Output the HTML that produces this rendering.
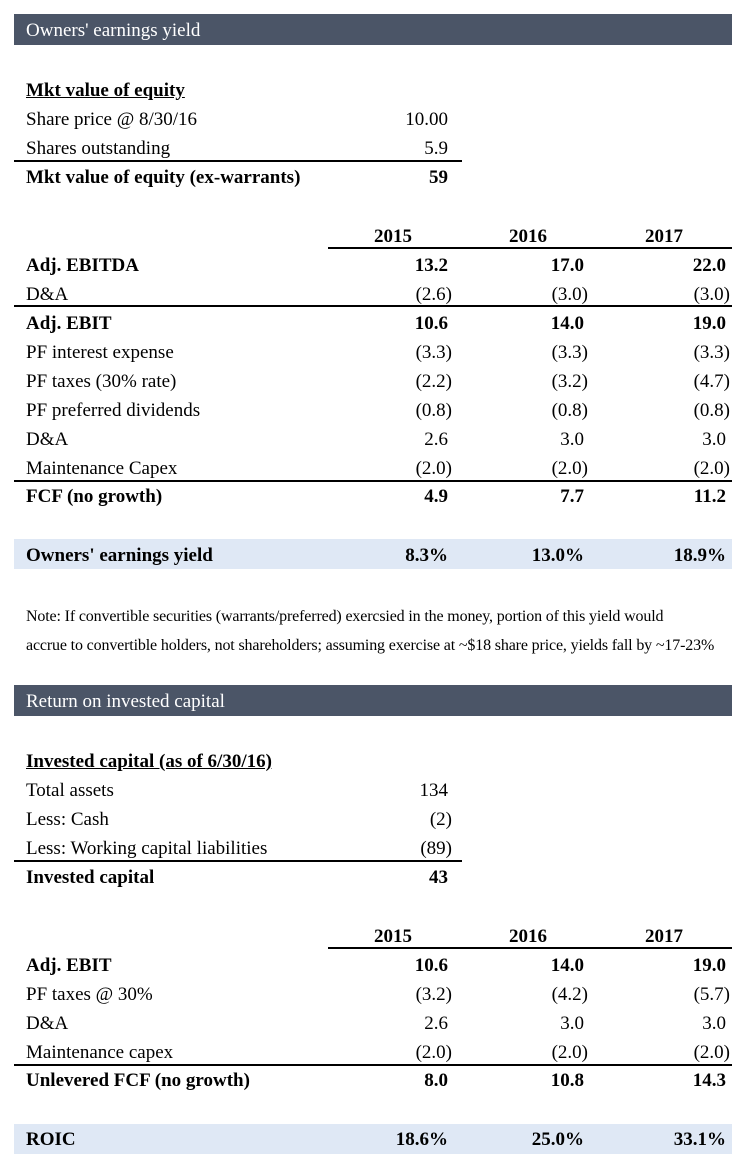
<!DOCTYPE html>
<html><head><meta charset="utf-8"><style>
body{margin:0;background:#fff;width:742px;height:1176px;position:relative;overflow:hidden;font-family:"Liberation Serif",serif;color:#000}
.a{position:absolute;line-height:20px;font-size:19px;white-space:nowrap;letter-spacing:0px}
.bar{position:absolute;left:14px;width:718px;height:31px;background:#4b5567}
.bar span{position:absolute;left:12px;top:6px;color:#fff;font-size:19px;letter-spacing:0px}
.band{position:absolute;left:14px;width:718px;height:30px;background:#dfe8f5}
.ln{position:absolute;height:2px;background:#000}
.b{font-weight:bold}
.r{text-align:right}
.note{font-size:16px;letter-spacing:-0.15px}
</style></head><body>
<div class="bar" style="top:14px"><span>Owners' earnings yield</span></div>
<div class="bar" style="top:685px"><span>Return on invested capital</span></div>
<div class="band" style="top:539px"></div>
<div class="band" style="top:1124px"></div>
<div class="ln" style="top:160px;left:14px;width:448px"></div>
<div class="ln" style="top:247px;left:328px;width:404px"></div>
<div class="ln" style="top:305px;left:14px;width:718px"></div>
<div class="ln" style="top:480px;left:14px;width:718px"></div>
<div class="ln" style="top:860px;left:14px;width:448px"></div>
<div class="ln" style="top:947px;left:328px;width:404px"></div>
<div class="ln" style="top:1064px;left:14px;width:718px"></div>
<div class="a note" style="left:26px;top:607px">Note: If convertible securities (warrants/preferred) exercsied in the money, portion of this yield would</div>
<div class="a note" style="left:26px;top:636px">accrue to convertible holders, not shareholders; assuming exercise at ~$18 share price, yields fall by ~17-23%</div>
<script>
// [y-center, label, bold, underline, values...]
const rows=[
[90,"Mkt value of equity",1,1],
[119,"Share price @ 8/30/16",0,0,"10.00"],
[148,"Shares outstanding",0,0,"5.9"],
[177,"Mkt value of equity (ex-warrants)",1,0,"59"],
[236,"",1,0,"Y2015","Y2016","Y2017"],
[265,"Adj. EBITDA",1,0,"13.2","17.0","22.0"],
[294,"D&A",0,0,"(2.6)","(3.0)","(3.0)"],
[323,"Adj. EBIT",1,0,"10.6","14.0","19.0"],
[352,"PF interest expense",0,0,"(3.3)","(3.3)","(3.3)"],
[381,"PF taxes (30% rate)",0,0,"(2.2)","(3.2)","(4.7)"],
[410,"PF preferred dividends",0,0,"(0.8)","(0.8)","(0.8)"],
[439,"D&A",0,0,"2.6","3.0","3.0"],
[468,"Maintenance Capex",0,0,"(2.0)","(2.0)","(2.0)"],
[496,"FCF (no growth)",1,0,"4.9","7.7","11.2"],
[555,"Owners' earnings yield",1,0,"8.3%","13.0%","18.9%"],
[761,"Invested capital (as of 6/30/16)",1,1],
[790,"Total assets",0,0,"134"],
[819,"Less: Cash",0,0,"(2)"],
[848,"Less: Working capital liabilities",0,0,"(89)"],
[877,"Invested capital",1,0,"43"],
[936,"",1,0,"Y2015","Y2016","Y2017"],
[965,"Adj. EBIT",1,0,"10.6","14.0","19.0"],
[994,"PF taxes @ 30%",0,0,"(3.2)","(4.2)","(5.7)"],
[1023,"D&A",0,0,"2.6","3.0","3.0"],
[1052,"Maintenance capex",0,0,"(2.0)","(2.0)","(2.0)"],
[1080,"Unlevered FCF (no growth)",1,0,"8.0","10.8","14.3"],
[1139,"ROIC",1,0,"18.6%","25.0%","33.1%"]];
const colRight=[448,584,726];
const yearCenter=[393,528,664];
rows.forEach(r=>{
  const [y,label,b,u]=r;
  if(label){
    const d=document.createElement('div');
    d.className='a'+(b?' b':'');
    d.style.left='26px';d.style.top=(y-9)+'px';
    if(u){d.style.textDecoration='underline';}
    d.textContent=label;
    
    
    document.body.appendChild(d);
  }
  r.slice(4).forEach((v,i)=>{
    const d=document.createElement('div');
    d.className='a'+(b?' b':'');
    d.style.top=(y-9)+'px';
    if(v[0]==='Y'){
      d.textContent=v.slice(1);
      d.style.left=(yearCenter[i]-50)+'px';d.style.width='100px';d.style.textAlign='center';
    }else{
      const paren=v[0]==='(';
      d.textContent=v;
      d.className+=' r';
      d.style.right=(742-colRight[i]-(paren?4:0))+'px';
    }
    
    
    document.body.appendChild(d);
  });
});
</script>
</body></html>
